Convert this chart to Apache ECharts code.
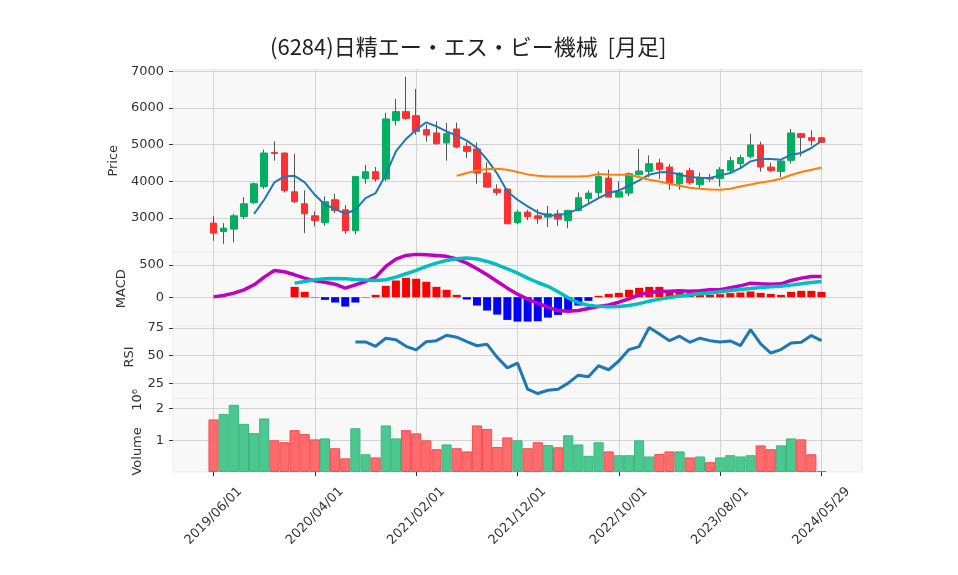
<!DOCTYPE html>
<html>
<head>
<meta charset="utf-8">
<script src="https://cdn.jsdelivr.net/npm/echarts@6/dist/echarts.min.js"></script>
<style>
  html, body { margin: 0; padding: 0; background: #fff; }
  #chart { width: 958px; height: 575px; }
</style>
</head>
<body>
<div id="chart"></div>
<script>
// 月足データ (2019/06 - 2024/05, 最終行は 2024/05/29 の当月分)
const dates = [
  '2019/06/01','2019/07/01','2019/08/01','2019/09/01','2019/10/01','2019/11/01','2019/12/01',
  '2020/01/01','2020/02/01','2020/03/01','2020/04/01','2020/05/01','2020/06/01','2020/07/01',
  '2020/08/01','2020/09/01','2020/10/01','2020/11/01','2020/12/01',
  '2021/01/01','2021/02/01','2021/03/01','2021/04/01','2021/05/01','2021/06/01','2021/07/01',
  '2021/08/01','2021/09/01','2021/10/01','2021/11/01','2021/12/01',
  '2022/01/01','2022/02/01','2022/03/01','2022/04/01','2022/05/01','2022/06/01','2022/07/01',
  '2022/08/01','2022/09/01','2022/10/01','2022/11/01','2022/12/01',
  '2023/01/01','2023/02/01','2023/03/01','2023/04/01','2023/05/01','2023/06/01','2023/07/01',
  '2023/08/01','2023/09/01','2023/10/01','2023/11/01','2023/12/01',
  '2024/01/01','2024/02/01','2024/03/01','2024/04/01','2024/05/01','2024/05/29'
];
const open = [2864,2635,2700,3044,3425,3862,4790,4772,3717,3390,3063,2880,3499,3226,2662,4081,4263,4063,5653,5899,
  5790,5408,5318,5045,5427,4954,4882,4227,3790,3790,2880,3163,3063,3027,3117,2935,3208,3535,3699,4090,
  3572,3681,4190,4272,4500,4390,3935,4290,3908,4100,4081,4290,4481,4681,4991,4390,4272,4572,5299,5190,5190];
const close = [2591,2727,3063,3390,3935,4772,4760,3753,3445,3117,2935,3445,3208,2662,4135,4263,4063,5700,5899,5717,
  5362,5263,5026,5299,4936,4817,4227,3845,3699,2845,3163,3044,2989,3117,2973,3208,3554,3681,4135,3572,
  3717,4208,4281,4481,4317,3954,4227,3971,4108,4063,4317,4563,4645,4991,4390,4299,4554,5318,5199,5117,5063];
const low = [2381,2299,2335,2973,3390,3791,4563,3700,3409,2591,2773,2790,3136,2573,2555,3935,3990,3999,5525,5681,
  5272,5081,5000,4563,4900,4636,3935,3845,3617,2836,2836,2945,2845,2755,2790,2727,3181,3400,3545,3572,
  3572,3600,4154,4117,4063,3772,3772,3908,3790,3990,3862,4245,4390,4627,4263,4254,4117,4481,4681,4972,5063];
const high = [3063,2864,3117,3573,3971,4863,5090,4790,4745,3753,3181,3590,3663,3354,4140,4445,4390,5863,6245,6845,
  6518,5545,5636,5590,5600,5063,5063,4517,3917,3800,3226,3226,3245,3335,3226,3226,3699,3753,4272,4317,
  3999,4245,4882,4708,4617,4472,4245,4372,4245,4208,4390,4672,4727,5299,5081,4508,4554,5427,5318,5390,5200];
const ma5 = [null,null,null,null,3117,3499,3971,4135,4150,3971,3635,3363,3254,3117,3226,3545,3681,4181,4817,5154,
  5408,5608,5499,5362,5245,5108,4909,4590,4208,3726,3499,3317,3154,3072,3072,3136,3245,3390,3545,3681,
  3753,3881,4026,4181,4245,4254,4181,4118,4100,4090,4163,4227,4363,4544,4608,4608,4590,4726,4772,4909,5100];
const ma25 = [null,null,null,null,null,null,null,null,null,null,null,null,null,null,null,null,null,null,null,null,
  null,null,null,null,4154,4227,4299,4336,4345,4317,4254,4190,4154,4136,4130,4130,4136,4145,4200,4190,
  4181,4181,4118,4045,3999,3935,3881,3826,3800,3780,3772,3800,3862,3917,3971,4009,4072,4172,4254,4317,4380];
const macd = [5,26,63,115,193,313,417,396,349,297,255,234,203,141,193,245,313,479,594,651,
  667,662,651,636,594,531,443,349,245,141,47,-31,-94,-156,-208,-219,-208,-177,-146,-120,
  -78,-26,36,73,89,94,99,94,99,115,115,146,177,219,208,203,208,260,297,323,323];
const signal = [null,null,null,null,null,null,null,null,219,245,271,287,292,287,276,266,260,271,313,365,
  417,479,531,573,599,610,594,557,505,443,375,297,229,170,85,-10,-85,-125,-143,-150,
  -146,-130,-100,-62,-30,-5,18,35,52,65,85,104,120,135,151,161,172,188,208,229,245];
const hist = [null,null,null,null,null,null,null,null,161,83,-5,-42,-83,-146,-83,-5,36,177,260,302,
  287,240,161,115,36,-36,-130,-208,-271,-354,-380,-380,-375,-318,-276,-214,-130,-57,21,52,
  68,115,146,161,161,104,89,63,52,36,47,63,73,89,68,52,36,83,99,99,83];
const rsi = [null,null,null,null,null,null,null,null,null,null,null,null,null,null,62.4,62.4,58.5,65.8,64.5,58.5,
  55.2,62.7,63.6,68.5,66.7,62.7,59,60.3,48.5,39,43.3,19.7,15.8,18.8,19.7,25.2,32.4,30.9,40.9,37.3,
  45.2,55.5,58.2,75.5,69.7,63.6,67.6,62.1,65.8,63.6,62.4,63.3,59.1,73.6,60.6,52.4,55.5,61.5,62.1,68.2,63.6];
// 出来高 (10^6 株)
const volume = [1.66,1.83,2.12,1.52,1.23,1.69,1.0,0.94,1.32,1.2,1.03,1.06,0.75,0.43,1.38,0.56,0.46,1.47,1.06,1.32,
  1.22,1.0,0.72,0.87,0.75,0.65,1.47,1.36,0.79,1.09,1.0,0.75,0.94,0.85,0.78,1.16,0.87,0.51,0.94,0.65,
  0.53,0.53,1.0,0.49,0.57,0.65,0.65,0.46,0.49,0.31,0.46,0.53,0.49,0.53,0.84,0.72,0.84,1.06,1.03,0.56,0.03];

const priceTicks = [3000, 4000, 5000, 6000, 7000];
const macdTicks = [0, 500];
const rsiTicks = [25, 50, 75];
const volTicks = [1, 2];
const labelEvery = 10;

const PAD = 4; // 左右の余白 (月数)
const pad = (arr, fill) => Array(PAD).fill(fill).concat(arr, Array(PAD).fill(fill));
const cats = pad(dates, '');
const isTick = (i) => i >= PAD && i - PAD < dates.length && (i - PAD) % labelEvery === 0;

const UP = '#00b060', DOWN = '#fe3032';
const VUP = '#4dc790', VDOWN = '#fd6b6c';
const FONT = 'DejaVu Sans';

const wickData = pad(dates.map((d, i) => [open[i], close[i], low[i], high[i]]), '-');
const bodyData = pad(dates.map((d, i) => [open[i], close[i], Math.min(open[i], close[i]), Math.max(open[i], close[i])]), '-');
const volData = pad(dates.map((d, i) => ({
  value: volume[i],
  itemStyle: {
    color: close[i] >= open[i] ? VUP : VDOWN,
    borderColor: close[i] >= open[i] ? '#38b97e' : '#f24e50'
  }
})), '-');

const tops = [69.5, 252, 325.5, 398.5];
const heights = [182.5, 73.5, 73, 73.5];

const chart = echarts.init(document.getElementById('chart'), null, { renderer: 'canvas' });

const xAxes = [0, 1, 2, 3].map(k => ({
  type: 'category',
  gridIndex: k,
  data: cats,
  boundaryGap: false,
  axisLine: { show: false },
  axisTick: { show: k === 3, interval: isTick, length: 4, lineStyle: { color: '#333' } },
  axisLabel: {
    show: k === 3, interval: isTick, rotate: 45, align: 'center', verticalAlign: 'middle',
    margin: 44, fontSize: 13, color: '#333', fontFamily: FONT
  },
  splitLine: { show: true, interval: isTick, lineStyle: { color: '#d3d3d3', width: 1 } }
}));

function yAxis(k, name, min, max, ticks, gap, namePad) {
  return {
    type: 'value',
    gridIndex: k,
    min: min,
    max: max,
    name: name,
    nameLocation: 'middle',
    nameRotate: 90,
    nameGap: gap,
    nameTextStyle: { fontSize: 13, color: '#333', fontFamily: FONT, padding: namePad || 0 },
    axisLine: { show: false },
    axisTick: { show: true, customValues: ticks, length: 4, lineStyle: { color: '#333' } },
    axisLabel: {
      customValues: ticks, fontSize: 13, color: '#333', margin: 9, fontFamily: FONT,
      formatter: v => String(v)
    },
    splitLine: { show: true, lineStyle: { color: '#d3d3d3', width: 1 } }
  };
}

chart.setOption({
  animation: false,
  backgroundColor: '#ffffff',
  title: {
    text: '(6284)日精エー・エス・ビー機械  [月足]',
    left: 265,
    top: 31,
    textStyle: { fontSize: 22, fontWeight: 'normal', color: '#222', fontFamily: 'Noto Sans CJK JP' }
  },
  grid: tops.map((t, k) => ({
    left: 173, width: 689, top: t, height: heights[k],
    show: true, backgroundColor: '#f8f8f8', borderColor: '#ebebeb', borderWidth: 1
  })),
  xAxis: xAxes,
  yAxis: [
    yAxis(0, 'Price', 2077, 7046, priceTicks, 46),
    yAxis(1, 'MACD', -441, 704, macdTicks, 41),
    yAxis(2, 'RSI', 11.3, 77.3, rsiTicks, 32, [0, 0, 0, 10]),
    yAxis(3, 'Volume    10⁶', 0, 2.32, volTicks, 29, [0, 0, 0, 6])
  ],
  series: [
    {
      name: 'wick', type: 'candlestick', xAxisIndex: 0, yAxisIndex: 0,
      data: wickData, barWidth: 1,
      itemStyle: { color: '#555', color0: '#555', borderColor: '#555', borderColor0: '#555', borderWidth: 1 }
    },
    {
      name: 'body', type: 'candlestick', xAxisIndex: 0, yAxisIndex: 0,
      data: bodyData, barWidth: 7,
      itemStyle: { color: UP, color0: DOWN, borderColor: UP, borderColor0: DOWN, borderWidth: 1 }
    },
    {
      name: 'MA5', type: 'line', xAxisIndex: 0, yAxisIndex: 0, data: pad(ma5, null),
      showSymbol: false, lineStyle: { color: '#1f77b4', width: 2 }, z: 5
    },
    {
      name: 'MA25', type: 'line', xAxisIndex: 0, yAxisIndex: 0, data: pad(ma25, null),
      showSymbol: false, lineStyle: { color: '#ff7f0e', width: 2 }, z: 5
    },
    {
      name: 'hist', type: 'bar', xAxisIndex: 1, yAxisIndex: 1, data: pad(hist, '-'),
      barWidth: 8,
      itemStyle: { color: p => (p.value >= 0 ? '#ff0000' : '#0000ff') }
    },
    {
      name: 'MACD', type: 'line', xAxisIndex: 1, yAxisIndex: 1, data: pad(macd, null),
      showSymbol: false, lineStyle: { color: '#bf00bf', width: 3.5 }, z: 5
    },
    {
      name: 'Signal', type: 'line', xAxisIndex: 1, yAxisIndex: 1, data: pad(signal, null),
      showSymbol: false, lineStyle: { color: '#00bfbf', width: 3.5 }, z: 5
    },
    {
      name: 'RSI', type: 'line', xAxisIndex: 2, yAxisIndex: 2, data: pad(rsi, null),
      showSymbol: false, lineStyle: { color: '#1f77b4', width: 3 }
    },
    {
      name: 'Volume', type: 'bar', xAxisIndex: 3, yAxisIndex: 3, data: volData,
      barWidth: '100%', itemStyle: { borderWidth: 1 }
    }
  ]
});
</script>
</body>
</html>
